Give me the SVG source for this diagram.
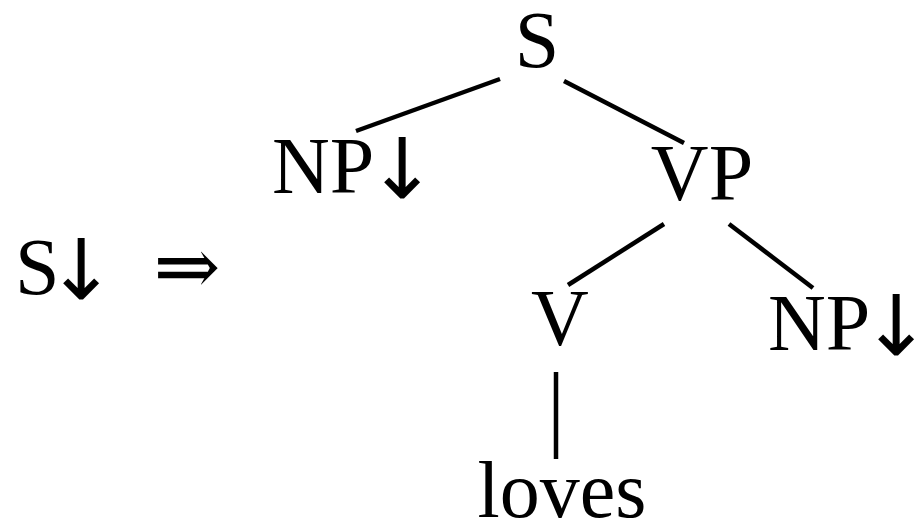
<svg xmlns="http://www.w3.org/2000/svg" width="916" height="524" viewBox="0 0 916 524">
<style>
text{font-family:"Liberation Serif","DejaVu Serif",serif;font-size:80px;fill:#000}
.ar{font-family:"DejaVu Sans",sans-serif;font-size:84px;text-anchor:middle}
.e{stroke:#000;stroke-width:4.5;stroke-linecap:butt;fill:none}
</style>
<rect width="916" height="524" fill="#fff"/>
<g id="lhs"><text x="15" y="294">S<tspan class="ar" x="81" dy="5">↓</tspan></text></g>
<g id="impl"><text x="187" y="294" text-anchor="middle">⇒</text></g>
<g id="nS"><text x="537" y="67" text-anchor="middle">S</text></g>
<g id="nNP1"><text x="272" y="193">NP<tspan class="ar" x="402" dy="5">↓</tspan></text></g>
<g id="nVP"><text x="702" y="200" text-anchor="middle">VP</text></g>
<g id="nV"><text x="560" y="345" text-anchor="middle">V</text></g>
<g id="nNP2"><text x="768" y="350">NP<tspan class="ar" x="896" dy="5">↓</tspan></text></g>
<g id="nloves"><text x="562" y="517" text-anchor="middle">loves</text></g>
<g id="edges">
<line class="e" x1="356" y1="131" x2="500" y2="79"/>
<line class="e" x1="564" y1="81" x2="684" y2="143"/>
<line class="e" x1="664" y1="224" x2="568" y2="285"/>
<line class="e" x1="729" y1="224" x2="813" y2="288"/>
<line class="e" x1="556" y1="372" x2="556" y2="459"/>
</g>
</svg>
